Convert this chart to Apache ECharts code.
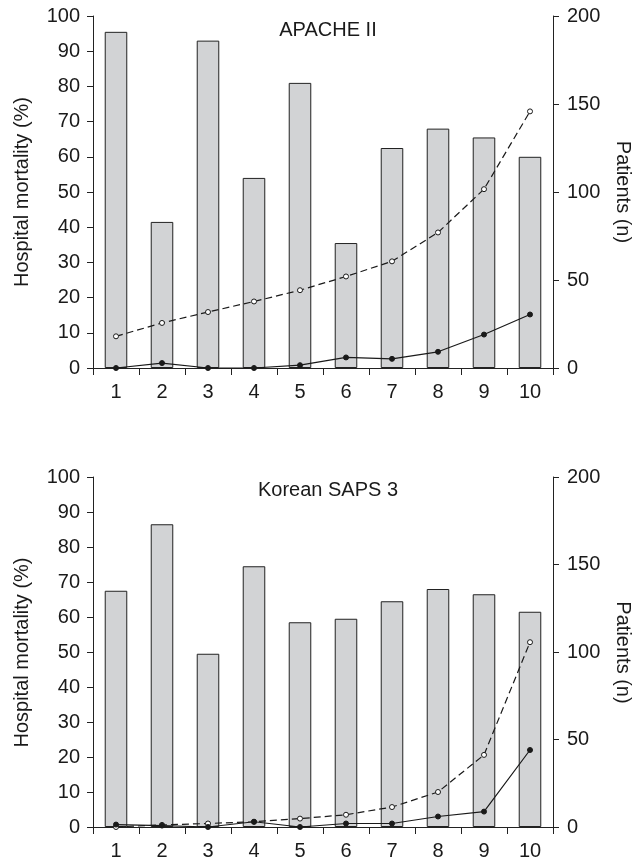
<!DOCTYPE html>
<html>
<head>
<meta charset="utf-8">
<script src="https://cdn.jsdelivr.net/npm/echarts@6/dist/echarts.min.js"></script>
<style>
html,body{margin:0;padding:0;background:#fff;}
#c{width:644px;height:861px;}
</style>
</head>
<body>
<div id="c"></div>
<script>
const categories = ['1','2','3','4','5','6','7','8','9','10'];
const titles = ['APACHE II', 'Korean SAPS 3'];
const apachePatients = [191, 83, 186, 108, 162, 71, 125, 136, 131, 120];
const apachePredicted = [9.0, 12.8, 15.9, 18.9, 22.1, 26.0, 30.3, 38.5, 50.8, 72.9];
const apacheObserved = [0, 1.4, 0, 0, 0.8, 3.0, 2.6, 4.6, 9.5, 15.2];
const sapsPatients = [135, 173, 99, 149, 117, 119, 129, 136, 133, 123];
const sapsPredicted = [0, 0.6, 1.0, 1.5, 2.4, 3.5, 5.7, 10.0, 20.6, 52.8];
const sapsObserved = [0.7, 0.4, 0, 1.5, 0, 1.0, 1.0, 3.0, 4.4, 22.0];
const leftAxisName = 'Hospital mortality (%)';
const rightAxisName = 'Patients (n)';

const FONT = '"Liberation Sans", Arial, Helvetica, sans-serif';
const AX = '#222222';
const TXT = '#1a1a1a';
const grids = [
  {left: 93, right: 91, top: 16, height: 352},
  {left: 93, right: 91, top: 477, height: 351}
];

function xAxis(i){
  return {
    type: 'category', gridIndex: i, data: categories, boundaryGap: true, position: 'bottom',
    axisLine: {show: true, onZero: false, lineStyle: {color: AX, width: 1}},
    axisTick: {show: true, interval: 0, length: 7, inside: false, alignWithLabel: false, lineStyle: {color: AX, width: 1}},
    axisLabel: {color: TXT, fontSize: 20, fontFamily: FONT, margin: 14, interval: 0}
  };
}
function yLeft(i){
  return {
    type: 'value', gridIndex: i, min: 0, max: 100, interval: 10, position: 'left',
    axisLine: {show: true, lineStyle: {color: AX, width: 1}},
    axisTick: {show: true, length: 6, lineStyle: {color: AX, width: 1}},
    axisLabel: {color: TXT, fontSize: 20, fontFamily: FONT, margin: 13},
    splitLine: {show: false}
  };
}
function yRight(i){
  return {
    type: 'value', gridIndex: i, min: 0, max: 200, interval: 50, position: 'right',
    axisLine: {show: true, lineStyle: {color: AX, width: 1}},
    axisTick: {show: true, length: 6, lineStyle: {color: AX, width: 1}},
    axisLabel: {color: TXT, fontSize: 20, fontFamily: FONT, margin: 14},
    splitLine: {show: false}
  };
}
function barSeries(i, data){
  return {
    type: 'bar', xAxisIndex: i, yAxisIndex: i*2+1, data: data, barWidth: '49%',
    itemStyle: {color: '#d2d3d5', borderColor: '#222222', borderWidth: 1},
    z: 2, silent: true
  };
}
function lineSeries(i, data, dashed){
  return {
    type: 'line', xAxisIndex: i, yAxisIndex: i*2, data: data,
    symbol: 'circle', symbolSize: 5, showSymbol: true,
    lineStyle: {color: '#1a1a1a', width: 1.2, type: dashed ? [7,4] : 'solid'},
    itemStyle: dashed ? {color: '#ffffff', borderColor: '#1a1a1a', borderWidth: 1}
                      : {color: '#1a1a1a', borderColor: '#1a1a1a', borderWidth: 1},
    z: 5, silent: true, animation: false
  };
}

const graphics = [];
grids.forEach((g, i) => {
  const cy = g.top + g.height/2;
  graphics.push({type: 'text', x: 22, y: cy, rotation: Math.PI/2,
    style: {text: leftAxisName, fill: TXT, font: '20px ' + FONT, textAlign: 'center', textVerticalAlign: 'middle'}});
  graphics.push({type: 'text', x: 623, y: cy, rotation: -Math.PI/2,
    style: {text: rightAxisName, fill: TXT, font: '20px ' + FONT, textAlign: 'center', textVerticalAlign: 'middle'}});
});

const option = {
  animation: false,
  backgroundColor: '#ffffff',
  title: [
    {text: titles[0], left: 323, top: 15, textAlign: 'center', textStyle: {fontSize: 20, fontWeight: 'normal', color: TXT, fontFamily: FONT}},
    {text: titles[1], left: 323, top: 475, textAlign: 'center', textStyle: {fontSize: 20, fontWeight: 'normal', color: TXT, fontFamily: FONT}}
  ],
  grid: grids,
  xAxis: [xAxis(0), xAxis(1)],
  yAxis: [yLeft(0), yRight(0), yLeft(1), yRight(1)],
  series: [
    barSeries(0, apachePatients),
    lineSeries(0, apachePredicted, true),
    lineSeries(0, apacheObserved, false),
    barSeries(1, sapsPatients),
    lineSeries(1, sapsPredicted, true),
    lineSeries(1, sapsObserved, false)
  ],
  graphic: graphics
};
const chart = echarts.init(document.getElementById('c'), null, {renderer: 'canvas'});
chart.setOption(option);
</script>
</body>
</html>
